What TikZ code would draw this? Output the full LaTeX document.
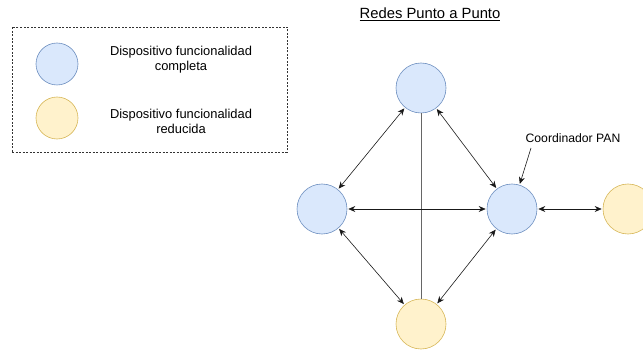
\documentclass[tikz,border=0pt]{standalone}
\usepackage{fontspec}
\setmainfont{Liberation Sans}
\usetikzlibrary{positioning,arrows.meta}
\definecolor{fullfill}{HTML}{DAE8FC}
\definecolor{fullline}{HTML}{6C8EBF}
\definecolor{redfill}{HTML}{FFF2CC}
\definecolor{redline}{HTML}{D6B656}
\def\devsize{50pt}

\begin{document}
\begin{tikzpicture}[x=1pt,y=-1pt,shorten >=1pt,shorten <=1pt,<->,>={Stealth[length=7pt,width=6pt]},draw=black!90,line width=0.6pt]
  \tikzstyle{full}=[circle,draw=fullline,fill=fullfill,minimum size=\devsize,inner sep=0pt]
  \tikzstyle{reduced}=[circle,draw=redline,fill=redfill,minimum size=\devsize,inner sep=0pt]
  \tikzstyle{annot} = [align=center, font=\fontsize{12.9}{15}\selectfont]

  \clip (0,0) rectangle (643,350);

  % leyenda
  \node[draw=black!80,line width=0.5pt,dash pattern=on 2pt off 1.5pt,minimum width=275pt,minimum height=125pt] (legend) at (149.5,89.5) {};
  \node[full,minimum size=42pt] (L-full) at (57,64) {};
  \node[reduced,minimum size=42pt] (L-red) at (57,118) {};
  \node[annot] (T-full) at (181,60) {Dispositivo funcionalidad\\completa};
  \node[annot] (T-red) at (181,121) {Dispositivo funcionalidad\\reducida};

  % red punto a punto
  \node[font=\fontsize{14.8}{16}\selectfont] (title) at (430,14) {\underline{Redes Punto a Punto}};

  \node[full] (top) at (421,88) {};
  \node[full] (left) at (322,209) {};
  \node[full] (pan) at (512,209) {};
  \node[reduced] (bottom) at (421,324) {};
  \node[reduced] (right) at (628,209) {};

  \draw[-,shorten >=0pt,shorten <=0pt,black!60,line width=1pt] (top) -- (bottom);

  \foreach \source/\dest in {top/left,top/pan,left/pan,left/bottom,pan/bottom,pan/right}
    \path (\source) edge (\dest);

  \node[font=\fontsize{12.2}{14}\selectfont] (panlabel) at (573,138) {Coordinador PAN};
  \coordinate (pantail) at (531,148);
  \draw[->,shorten <=0pt] (pantail) -- (pan);
\end{tikzpicture}
\end{document}
